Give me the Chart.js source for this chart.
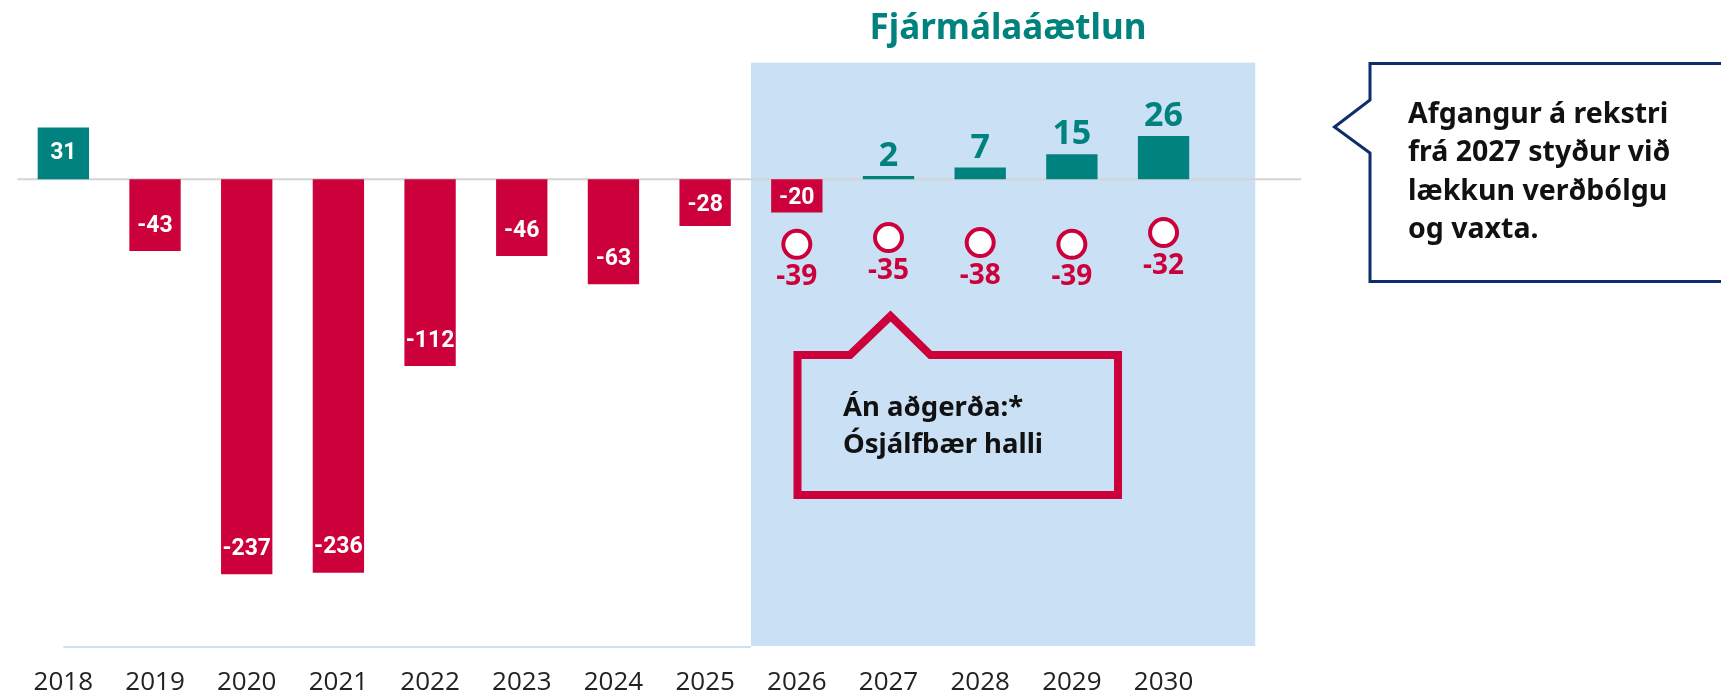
<!DOCTYPE html>
<html>
<head>
<meta charset="utf-8">
<script src="https://cdn.jsdelivr.net/npm/chart.js@4.4.1/dist/chart.umd.min.js"></script>
<style>
  html, body { margin: 0; padding: 0; background: #fff; }
  canvas { display: block; }
</style>
</head>
<body>
<canvas id="afkoma" width="1721" height="696"></canvas>
<script>
const years = ['2018', '2019', '2020', '2021', '2022', '2023', '2024', '2025', '2026', '2027', '2028', '2029', '2030'];
const afkoma = [31, -43, -237, -236, -112, -46, -63, -28, -20, 2, 7, 15, 26];
const anAdgerda = [null, null, null, null, null, null, null, null, -39, -35, -38, -39, -32];
const planStart = '2026';
const yMin = -280;
const yMax = 70;

const titleText = 'Fjármálaáætlun';
const noteRight = ['Afgangur á rekstri', 'frá 2027 styður við', 'lækkun verðbólgu', 'og vaxta.'];
const noteRed = ['Án aðgerða:*', 'Ósjálfbær halli'];

const TEAL = '#00827f';
const RED = '#cc003a';
const BLUE = '#c9e0f5';
const NAVY = '#0d2d6b';
const planIdx = years.indexOf(planStart);

// blue forecast area, zero line, bottom line
const backdrop = {
    id: 'backdrop',
    beforeDatasetsDraw(chart) {
        const { ctx, chartArea, scales: { x, y } } = chart;
        const step = x.getPixelForValue(1) - x.getPixelForValue(0);
        const left = x.getPixelForValue(planIdx) - step / 2;
        const right = x.getPixelForValue(years.length - 1) + step;
        ctx.save();
        ctx.fillStyle = BLUE;
        ctx.fillRect(left, chartArea.top, right - left, chartArea.bottom - chartArea.top);
        ctx.strokeStyle = BLUE;
        ctx.lineWidth = 2;
        ctx.beginPath();
        ctx.moveTo(x.getPixelForValue(0), chartArea.bottom + 1);
        ctx.lineTo(left, chartArea.bottom + 1);
        ctx.stroke();
        const y0 = y.getPixelForValue(0);
        ctx.strokeStyle = '#d4d4d4';
        ctx.lineWidth = 2;
        ctx.beginPath();
        ctx.moveTo(chartArea.left, y0);
        ctx.lineTo(right + step / 2, y0);
        ctx.stroke();
        ctx.restore();
    }
};

const labels = {
    id: 'labels',
    afterDatasetsDraw(chart) {
        const { ctx } = chart;
        ctx.save();
        ctx.textAlign = 'center';
        // bar values
        chart.getDatasetMeta(1).data.forEach((bar, i) => {
            const v = afkoma[i];
            const len = Math.abs(bar.base - bar.y);
            if (v > 0 && i >= planIdx) {
                ctx.fillStyle = TEAL;
                ctx.font = 'bold 34px "Noto Sans"';
                ctx.textBaseline = 'alphabetic';
                ctx.fillText(String(v), bar.x, bar.y - 10);
            } else {
                ctx.fillStyle = '#fff';
                ctx.font = 'bold 23px Roboto';
                ctx.textBaseline = 'middle';
                const off = Math.min(26, len * 0.47);
                const ty = v < 0 ? bar.y - off : bar.y + off;
                ctx.fillText(String(v), bar.x, ty + 1);
            }
        });
        // circle values
        ctx.fillStyle = RED;
        ctx.font = 'bold 28px "Noto Sans"';
        ctx.textBaseline = 'middle';
        chart.getDatasetMeta(0).data.forEach((pt, i) => {
            if (anAdgerda[i] === null) return;
            ctx.fillText(String(anAdgerda[i]), pt.x, pt.y + 33);
        });
        ctx.restore();
    },
    afterDraw(chart) {
        const { ctx } = chart;
        ctx.save();
        // title
        ctx.fillStyle = TEAL;
        ctx.font = 'bold 35px "Noto Sans"';
        ctx.textAlign = 'center';
        ctx.textBaseline = 'alphabetic';
        ctx.fillText(titleText, 1008, 39);

        // right callout
        ctx.beginPath();
        ctx.moveTo(1370, 63.5);
        ctx.lineTo(1730, 63.5);
        ctx.lineTo(1730, 281.5);
        ctx.lineTo(1370, 281.5);
        ctx.lineTo(1370, 153);
        ctx.lineTo(1334.5, 127);
        ctx.lineTo(1370, 100);
        ctx.closePath();
        ctx.fillStyle = '#fff';
        ctx.fill();
        ctx.strokeStyle = NAVY;
        ctx.lineWidth = 3;
        ctx.stroke();
        ctx.fillStyle = '#111';
        ctx.font = 'bold 28.5px "Noto Sans"';
        ctx.textAlign = 'left';
        noteRight.forEach((line, i) => ctx.fillText(line, 1408, 123 + i * 38.3));

        // red callout
        ctx.beginPath();
        ctx.moveTo(797.5, 355);
        ctx.lineTo(850, 355);
        ctx.lineTo(890.5, 316);
        ctx.lineTo(930.5, 355);
        ctx.lineTo(1118, 355);
        ctx.lineTo(1118, 495);
        ctx.lineTo(797.5, 495);
        ctx.closePath();
        ctx.strokeStyle = RED;
        ctx.lineWidth = 8;
        ctx.lineJoin = 'miter';
        ctx.stroke();
        ctx.fillStyle = '#111';
        ctx.font = 'bold 27.5px "Noto Sans"';
        noteRed.forEach((line, i) => ctx.fillText(line, 843, 416 + i * 36.7));
        ctx.restore();
    }
};

new Chart(document.getElementById('afkoma'), {
    data: {
        labels: years,
        datasets: [
            {
                type: 'line',
                label: 'Án aðgerða',
                data: anAdgerda,
                showLine: false,
                order: 0,
                pointRadius: 13.5,
                pointHoverRadius: 13.5,
                pointBorderWidth: 4,
                pointBorderColor: RED,
                pointBackgroundColor: '#fff'
            },
            {
                type: 'bar',
                label: 'Afkoma',
                data: afkoma,
                order: 1,
                backgroundColor: afkoma.map(v => v > 0 ? TEAL : RED),
                barPercentage: 0.7,
                categoryPercentage: 0.8
            }
        ]
    },
    options: {
        responsive: false,
        animation: false,
        layout: { padding: { left: 15.6, right: 511.6, top: 62.6, bottom: 0 } },
        plugins: { legend: { display: false }, tooltip: { enabled: false } },
        scales: {
            x: {
                type: 'category',
                offset: true,
                grid: { display: false, drawTicks: false },
                border: { display: false },
                ticks: {
                    color: '#222',
                    font: { family: '"Open Sans"', size: 26 },
                    padding: 21,
                    maxRotation: 0,
                    autoSkip: false
                },
                afterFit(scale) { scale.height = 50; }
            },
            y: {
                display: false,
                min: yMin,
                max: yMax
            }
        }
    },
    plugins: [backdrop, labels]
});
</script>
</body>
</html>
